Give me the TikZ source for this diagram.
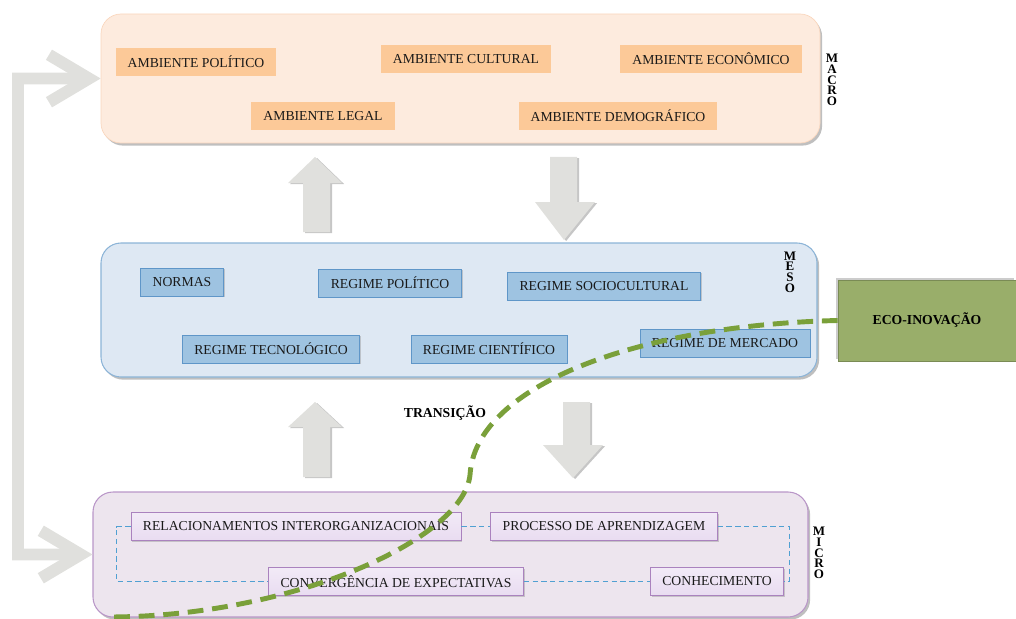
\documentclass[tikz,border=0pt]{standalone}
\usepackage{fontspec}
\setmainfont{Liberation Serif}
\usetikzlibrary{fit,shadows,arrows.meta}

\definecolor{macrofill}{RGB}{253,235,222}
\definecolor{macroline}{RGB}{250,215,190}
\definecolor{ambfill}{RGB}{252,201,152}
\definecolor{mesofill}{RGB}{222,232,243}
\definecolor{mesoline}{RGB}{140,180,215}
\definecolor{regfill}{RGB}{158,195,225}
\definecolor{regline}{RGB}{95,150,200}
\definecolor{microfill}{RGB}{237,229,238}
\definecolor{microline}{RGB}{185,150,200}
\definecolor{micfill}{RGB}{233,220,241}
\definecolor{micline}{RGB}{170,130,190}
\definecolor{ecofill}{RGB}{153,174,106}
\definecolor{ecoline}{RGB}{122,160,58}
\definecolor{linkblue}{RGB}{80,160,210}
\definecolor{arrgray}{RGB}{224,224,221}

\tikzset{
  itemfont/.style={font=\fontsize{7.8}{9}\selectfont},
  layerbox/.style={rounded corners=0.4cm, inner sep=0pt,
    drop shadow={shadow xshift=1.2pt, shadow yshift=-1.5pt, opacity=0.5}},
  macrobox/.style={layerbox, fill=macrofill, draw=macroline, line width=0.4pt},
  mesobox/.style={layerbox, fill=mesofill, draw=mesoline, line width=0.6pt},
  microbox/.style={layerbox, fill=microfill, draw=microline, line width=0.6pt},
  itembox/.style={itemfont, rectangle, inner xsep=6.8pt, inner ysep=0pt,
    minimum height=15.9pt, text=black!90},
  ambbox/.style={itembox, fill=ambfill},
  regbox/.style={itembox, fill=regfill, draw=regline, line width=0.5pt,
    drop shadow={shadow xshift=0.8pt, shadow yshift=-0.8pt, opacity=0.35}},
  micbox/.style={itembox, top color=micfill!60!white, bottom color=micfill,
    draw=micline, line width=0.5pt,
    drop shadow={shadow xshift=0.8pt, shadow yshift=-0.8pt, opacity=0.35}},
  layerlbl/.style={font=\bfseries\fontsize{7.4}{6.1}\selectfont, align=center,
    inner sep=0pt},
  ecobox/.style={font=\bfseries\fontsize{7.8}{9}\selectfont,
    fill=ecofill, draw=ecofill!80!black, line width=0.4pt,
    minimum width=3.56cm, minimum height=1.62cm, inner sep=0pt,
    drop shadow={shadow xshift=-1pt, shadow yshift=1.2pt, opacity=0.4}},
  translbl/.style={font=\bfseries\fontsize{7.8}{9}\selectfont, inner sep=0pt},
  feedback/.style={draw=arrgray, line width=6.8pt, line join=miter,
    {Straight Barb[length=8mm, width=9.5mm]}-{Straight Barb[length=8mm, width=9.5mm]}},
  blockarr/.style={fill=arrgray,
    drop shadow={shadow xshift=1.2pt, shadow yshift=-0.6pt, opacity=0.45}},
  link/.style={draw=linkblue, densely dashed, line width=0.6pt},
  ecopath/.style={draw=ecoline, line width=2.8pt, dash pattern=on 9pt off 5pt}
}

\begin{document}
\begin{tikzpicture}[x=0.02cm, y=-0.02cm]
\useasboundingbox (0,0) rectangle (1016,618);

% Drawing the three layers
\node (macro) [macrobox, fit={(101,14) (820,143)}] {};
\node (meso) [mesobox, fit={(101,243) (817,377)}] {};
\node (micro) [microbox, fit={(93,492) (808,617)}] {};

% Layer names
\node (macrolbl) [layerlbl] at (832,80) {M\\A\\C\\R\\O};
\node (mesolbl) [layerlbl] at (790,272) {M\\E\\S\\O};
\node (microlbl) [layerlbl] at (819,553) {M\\I\\C\\R\\O};

% Macro level
\node (polit) [ambbox] at (196,62) {AMBIENTE POLÍTICO};
\node (cult) [ambbox] at (466,59) {AMBIENTE CULTURAL};
\node (econ) [ambbox] at (711,59) {AMBIENTE ECONÔMICO};
\node (legal) [ambbox] at (323,116) {AMBIENTE LEGAL};
\node (demog) [ambbox] at (618,116) {AMBIENTE DEMOGRÁFICO};

% Meso level
\node (normas) [regbox] at (182,282) {NORMAS};
\node (rpol) [regbox] at (390,283) {REGIME POLÍTICO};
\node (rsoc) [regbox] at (604,286) {REGIME SOCIOCULTURAL};
\node (rtec) [regbox] at (271,349) {REGIME TECNOLÓGICO};
\node (rcien) [regbox] at (489,349) {REGIME CIENTÍFICO};
\node (rmerc) [regbox] at (725,343) {REGIME DE MERCADO};

% Micro level
\node (relac) [micbox] at (296,526.5) {RELACIONAMENTOS INTERORGANIZACIONAIS};
\node (proc) [micbox] at (604,526.5) {PROCESSO DE APRENDIZAGEM};
\node (conv) [micbox] at (396,581.5) {CONVERGÊNCIA DE EXPECTATIVAS};
\node (conh) [micbox] at (717,581.5) {CONHECIMENTO};

% Dashed links in the micro level
\draw[link] (relac.west) -- ++(-14,0) |- (conv.west);
\draw[link] (relac.east) -- (proc.west);
\draw[link] (proc.east) -- ++(72,0) |- (conh.east);
\draw[link] (conv.east) -- (conh.west);

% Feedback from micro to macro
\coordinate (fbtop) at (18,78.5);
\coordinate (fbbot) at (18,554.5);
\draw[feedback] (macro.west) -- (fbtop) -- (fbbot) -- (micro.west);

% Block arrows between the levels
\fill[blockarr] (303,232) -- (303,183) -- (288,183) -- (315,157) -- (342,183) -- (330,183) -- (330,232) -- cycle;
\fill[blockarr] (550,157) -- (550,202) -- (535,202) -- (564,240) -- (595,202) -- (577,202) -- (577,157) -- cycle;
\fill[blockarr] (303,477) -- (303,427) -- (288,427) -- (315,402) -- (342,427) -- (330,427) -- (330,477) -- cycle;
\fill[blockarr] (563,402) -- (563,445) -- (543,445) -- (573,478) -- (603,445) -- (590,445) -- (590,402) -- cycle;

% Eco-innovation and the transition path
\node (eco) [ecobox] at (927,320.5) {ECO-INOVAÇÃO};
\node (trans) [translbl] at (445,413) {TRANSIÇÃO};
\coordinate (ecoend) at (108,617);
\draw[ecopath] (eco.west) .. controls (640,325) and (475,385) .. (470,475)
  .. controls (463,540) and (290,617) .. (ecoend);

\end{tikzpicture}
\end{document}
